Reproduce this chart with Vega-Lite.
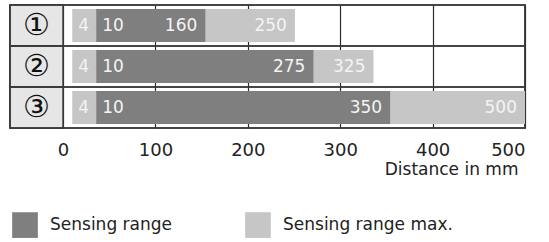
{
  "$schema": "https://vega.github.io/schema/vega-lite/v6.json",
  "width": 515,
  "height": 123,
  "autosize": "none",
  "padding": {"left": 10, "top": 5, "right": 24, "bottom": 114},
  "background": "white",
  "config": {
    "view": {"stroke": "#3a3a3a", "strokeWidth": 1.5},
    "font": "DejaVu Sans"
  },
  "datasets": {
    "rows": [{"row": "①"}, {"row": "②"}, {"row": "③"}],
    "segs": [
      {"row": "①", "type": "Sensing range max.", "start": 10, "end": 251, "startLabel": "4", "endLabel": "250"},
      {"row": "①", "type": "Sensing range", "start": 36, "end": 154, "startLabel": "10", "endLabel": "160"},
      {"row": "②", "type": "Sensing range max.", "start": 10, "end": 336, "startLabel": "4", "endLabel": "325"},
      {"row": "②", "type": "Sensing range", "start": 36, "end": 271, "startLabel": "10", "endLabel": "275"},
      {"row": "③", "type": "Sensing range max.", "start": 10, "end": 500, "startLabel": "4", "endLabel": "500"},
      {"row": "③", "type": "Sensing range", "start": 36, "end": 354, "startLabel": "10", "endLabel": "350"}
    ]
  },
  "layer": [
    {
      "data": {"name": "rows"},
      "mark": {"type": "rect", "fill": "#e6e6e6", "stroke": "#3a3a3a", "strokeWidth": 1.5},
      "encoding": {
        "y": {"field": "row", "type": "nominal", "scale": {"domain": ["①", "②", "③"], "paddingInner": 0, "paddingOuter": 0}, "axis": null},
        "x": {"datum": -57.4, "type": "quantitative", "scale": {"domain": [-57.4, 500], "nice": false, "zero": false},
          "axis": {"values": [0, 100, 200, 300, 400, 500], "grid": true, "gridColor": "#2a2a2a", "gridWidth": 1.2, "domain": false, "ticks": false,
            "labelFontSize": 18, "labelColor": "#222", "labelPadding": 13, "labelFont": "DejaVu Sans",
            "title": "Distance in mm", "titleFontSize": 17, "titleFontWeight": "normal", "titleColor": "#222", "titleFont": "DejaVu Sans",
            "titleAlign": "right", "titleX": 508, "titleY": 46, "titleBaseline": "alphabetic"}},
        "x2": {"datum": 0}
      }
    },
    {
      "data": {"name": "rows"},
      "mark": {"type": "rect", "fill": null, "fillOpacity": 0, "stroke": "#3a3a3a", "strokeWidth": 1.5},
      "encoding": {
        "y": {"field": "row", "type": "nominal"},
        "x": {"datum": -57.4, "type": "quantitative"},
        "x2": {"datum": 500}
      }
    },
    {
      "data": {"name": "rows"},
      "mark": {"type": "text", "fontSize": 30, "color": "#111", "font": "DejaVu Sans"},
      "encoding": {
        "y": {"field": "row", "type": "nominal"},
        "x": {"datum": -28.7, "type": "quantitative"},
        "text": {"field": "row"}
      }
    },
    {
      "data": {"name": "segs"},
      "mark": {"type": "bar", "height": {"band": 0.8}},
      "encoding": {
        "y": {"field": "row", "type": "nominal"},
        "x": {"field": "start", "type": "quantitative"},
        "x2": {"field": "end"},
        "order": {"field": "start"},
        "color": {"field": "type", "type": "nominal",
          "scale": {"domain": ["Sensing range", "Sensing range max."], "range": ["#7f7f7f", "#c6c6c6"]},
          "legend": {"title": null, "orient": "none", "legendX": 2, "legendY": 207, "direction": "horizontal",
            "symbolType": "square", "symbolSize": 660, "symbolStrokeWidth": 0, "symbolOpacity": 1,
            "labelFontSize": 17, "labelFont": "DejaVu Sans", "labelColor": "#222", "labelOffset": 12, "labelLimit": 300, "columnPadding": 72}}
      }
    },
    {
      "data": {"name": "segs"},
      "mark": {"type": "text", "align": "left", "dx": 6, "fontSize": 17, "color": "#f4f4f4"},
      "encoding": {
        "y": {"field": "row", "type": "nominal"},
        "x": {"field": "start", "type": "quantitative"},
        "text": {"field": "startLabel"}
      }
    },
    {
      "data": {"name": "segs"},
      "mark": {"type": "text", "align": "right", "dx": -8, "fontSize": 17, "color": "#f4f4f4"},
      "encoding": {
        "y": {"field": "row", "type": "nominal"},
        "x": {"field": "end", "type": "quantitative"},
        "text": {"field": "endLabel"}
      }
    }
  ]
}
